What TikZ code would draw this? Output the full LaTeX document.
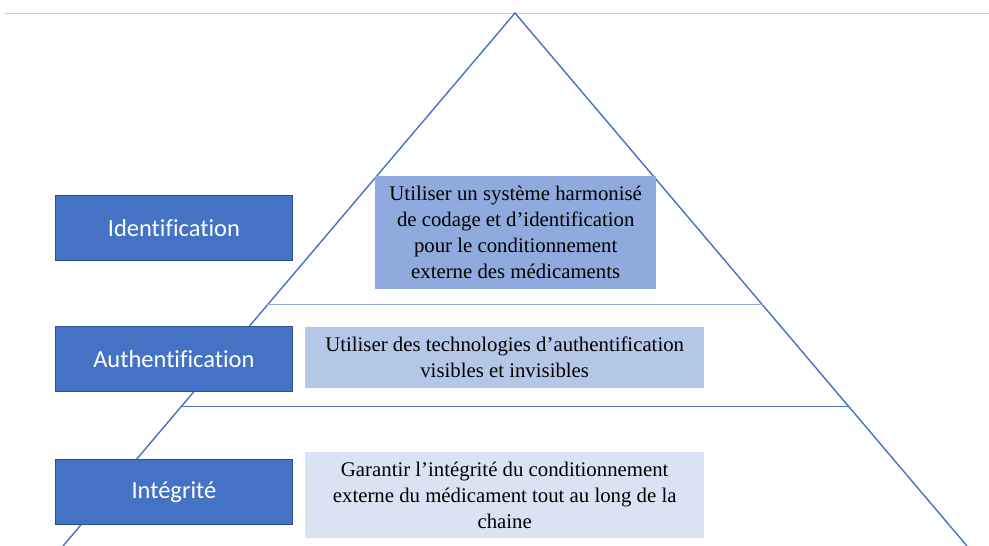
\documentclass[tikz,border=0pt]{standalone}
\usepackage{fontspec}
\setmainfont{Liberation Serif}
\newfontfamily\labelfont[Ligatures=NoCommon]{Carlito}
\usetikzlibrary{calc}
\definecolor{accent}{HTML}{4472C4}
\definecolor{accentdark}{HTML}{2F528F}
\definecolor{tintA}{HTML}{8FAADC}
\definecolor{tintB}{HTML}{B4C7E7}
\definecolor{tintC}{HTML}{DAE3F3}
\definecolor{rulegray}{HTML}{C8C8C8}
\tikzset{
  levelbox/.style={draw=accentdark, line width=0.8pt, fill=accent, text=white,
    font=\labelfont\fontsize{24.5}{28}\selectfont, minimum width=237pt, minimum height=65pt,
    anchor=north west, inner sep=0pt},
  descbox/.style={fill=#1, draw=none, text=black, align=center,
    font=\fontsize{20.8}{26}\selectfont, anchor=north west, inner sep=0pt},
  pyr/.style={draw=accent, line width=1.4pt},
  divider/.style={draw=#1, line width=1pt}
}
\begin{document}
\begin{tikzpicture}[x=1pt,y=-1pt]
\useasboundingbox (0,0) rectangle (989,546);
% top rule
\coordinate (ruleL) at (5,13);
\coordinate (ruleR) at (989,13);
\draw[rulegray, line width=1pt] (ruleL) -- (ruleR);
% pyramid
\coordinate (apex) at (515,13);
\coordinate (bl) at (63,546);
\coordinate (br) at (967,546);
\draw[pyr] (bl) -- (apex) -- (br);
\coordinate (d1L) at ($(apex)!0.5478!(bl)$);
\coordinate (d1R) at ($(apex)!0.5478!(br)$);
\coordinate (d2L) at ($(apex)!0.7392!(bl)$);
\coordinate (d2R) at ($(apex)!0.7392!(br)$);
\draw[divider=tintA] (d1L) -- (d1R);
\draw[divider=accent!80!gray] (d2L) -- (d2R);
% left labels
\node[levelbox] (ident) at (55,195) {Identification};
\node[levelbox] (authen) at (55,326) {Authentification};
\node[levelbox] (integ) at (55,459) {Intégrité};
% descriptions
\node[descbox=tintA, minimum width=281pt, minimum height=113pt] (descA) at (375,176)
  {Utiliser un système harmonisé\\de codage et d’identification\\pour le conditionnement\\externe des médicaments};
\node[descbox=tintB, minimum width=399pt, minimum height=61pt] (descB) at (305,327)
  {Utiliser des technologies d’authentification\\visibles et invisibles};
\node[descbox=tintC, minimum width=399pt, minimum height=86pt] (descC) at (305,452)
  {Garantir l’intégrité du conditionnement\\externe du médicament tout au long de la\\chaine};
\end{tikzpicture}
\end{document}
